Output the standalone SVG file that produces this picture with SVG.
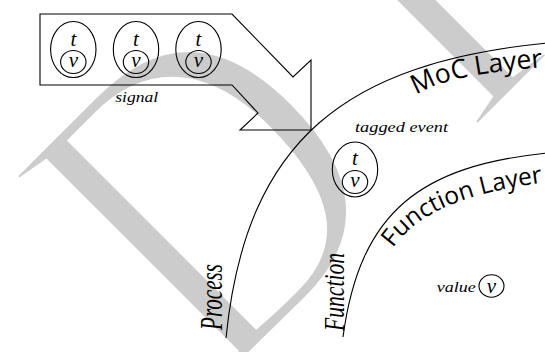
<svg xmlns="http://www.w3.org/2000/svg" width="545" height="352" viewBox="0 0 545 352">
<style>
.wm{font-family:"Liberation Serif",serif;font-size:455px;fill:#cccccc;stroke:#ffffff;stroke-width:11}
.ln{fill:none;stroke:#000;stroke-width:1.1}
.ev{fill:none;stroke:#000;stroke-width:1.1}
.mi{font-family:"Liberation Serif",serif;font-style:italic;fill:#000}
.big{font-size:21px}
.lay{font-family:"Open Sans","Noto Sans",sans-serif;fill:#000}
</style>
<defs>
<path id="mocp" d="M416,95 C440,80 475,72 570,65"/>
<path id="funp" d="M393,248 C417,214 462,191 565,180"/>
</defs>
<rect x="0" y="0" width="545" height="352" fill="#fff"/>
<g id="watermark">
<text class="wm" transform="rotate(-45) scale(0.85,1)" x="-150" y="430">D<tspan dx="95">R</tspan></text>
</g>
<g id="boundaries">
<path class="ln" d="M226,338 C246,138 347,63 547,43"/>
<path class="ln" d="M343,337 C360,210 422,166 547,153"/>
</g>
<g id="signal">
<polygon class="ln" stroke-width="1.2" points="40,14 232,14 293,77 311,60 311,130 240,130 258,113 232,85 40,85"/>
<g id="ev1">
<ellipse class="ev" cx="73.3" cy="49.5" rx="22.7" ry="28"/>
<ellipse class="ev" cx="73.3" cy="62" rx="12.7" ry="11.5"/>
<text class="mi big" x="73.3" y="45.5" text-anchor="middle">t</text>
<text class="mi big" x="73.3" y="67" text-anchor="middle">v</text>
</g>
<g id="ev2">
<ellipse class="ev" cx="136" cy="49.5" rx="22.7" ry="28"/>
<ellipse class="ev" cx="136" cy="62" rx="12.7" ry="11.5"/>
<text class="mi big" x="136" y="45.5" text-anchor="middle">t</text>
<text class="mi big" x="136" y="67" text-anchor="middle">v</text>
</g>
<g id="ev3">
<ellipse class="ev" cx="198.5" cy="49.5" rx="22.7" ry="28"/>
<ellipse class="ev" cx="198.5" cy="62" rx="12.7" ry="11.5"/>
<text class="mi big" x="198.5" y="45.5" text-anchor="middle">t</text>
<text class="mi big" x="198.5" y="67" text-anchor="middle">v</text>
</g>
<text class="mi" font-size="14" transform="translate(136.7,102) scale(1.3,1)" text-anchor="middle" textLength="33" lengthAdjust="spacingAndGlyphs">signal</text>
</g>
<g id="tagged-event">
<text class="mi" font-size="14.5" transform="translate(401.5,131.5) scale(1.25,1)" text-anchor="middle" textLength="74.4" lengthAdjust="spacingAndGlyphs">tagged event</text>
<ellipse class="ev" cx="355" cy="169.5" rx="22.7" ry="27.5"/>
<ellipse class="ev" cx="355" cy="182" rx="12.7" ry="11.5"/>
<text class="mi big" x="355" y="165" text-anchor="middle">t</text>
<text class="mi big" x="355" y="187" text-anchor="middle">v</text>
</g>
<g id="moc-layer">
<text class="lay" font-size="26.5"><textPath href="#mocp">MoC Layer</textPath></text>
<text class="mi" font-size="20" transform="translate(222,330) scale(1.55,1) rotate(-90)" textLength="66" lengthAdjust="spacingAndGlyphs">Process</text>
</g>
<g id="function-layer">
<text class="lay" font-size="24.5"><textPath href="#funp">Function Layer</textPath></text>
<text class="mi" font-size="20" transform="translate(344,331) scale(1.45,1) rotate(-90)" textLength="78" lengthAdjust="spacingAndGlyphs">Function</text>
</g>
<g id="value">
<text class="mi" font-size="15" transform="translate(436.7,291.5) scale(1.2,1)" textLength="32.5" lengthAdjust="spacingAndGlyphs">value</text>
<ellipse class="ev" cx="491.5" cy="286" rx="12.5" ry="11.2"/>
<text class="mi big" x="491.5" y="293" text-anchor="middle">v</text>
</g>
</svg>
